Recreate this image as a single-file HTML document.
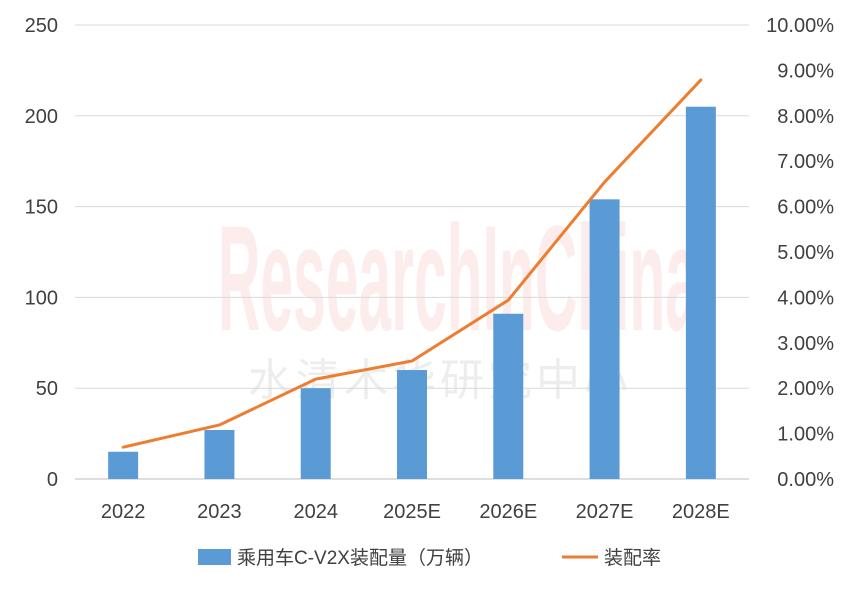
<!DOCTYPE html>
<html><head><meta charset="utf-8"><style>
body{margin:0;background:#fff;}
svg{display:block;font-family:"Liberation Sans","Noto Sans CJK SC",sans-serif;}
</style></head><body>
<svg id="chart" width="862" height="591" viewBox="0 0 862 591">
<g id="wm">
<text x="458" y="330" text-anchor="middle" font-size="150" font-weight="bold" fill="#e03030" fill-opacity="0.09" textLength="480" lengthAdjust="spacingAndGlyphs">ResearchInChina</text>
<text x="440" y="395" text-anchor="middle" font-size="44" fill="#999" fill-opacity="0.18" letter-spacing="4">水清木华研究中心</text>
</g>
<g id="grid"></g><g id="bars"></g><g id="line"></g><g id="labels"></g>
<g>
<rect x="198" y="549" width="33" height="16" fill="#5b9bd5"/>
<text x="237" y="564" font-size="19" fill="#404040">乘用车C-V2X装配量（万辆）</text>
<line x1="562" y1="557" x2="598" y2="557" stroke="#ed7d31" stroke-width="3"/>
<text x="604" y="564" font-size="19" fill="#404040">装配率</text>
</g>
</svg>
<script>
const categories=["2022","2023","2024","2025E","2026E","2027E","2028E"];
const volumes=[15,27,50,60,91,154,205];
const rates=[0.70,1.19,2.20,2.60,3.94,6.54,8.79];
const leftTicks=[0,50,100,150,200,250];
const rightTicks=["0.00%","1.00%","2.00%","3.00%","4.00%","5.00%","6.00%","7.00%","8.00%","9.00%","10.00%"];
const NS="http://www.w3.org/2000/svg";
const x0=75,x1=749,yB=479,yT=25;
const band=(x1-x0)/categories.length;
const xc=i=>x0+band*(i+0.5);
const yL=v=>yB-(v/250)*(yB-yT);
const yR=v=>yB-(v/10)*(yB-yT);
function mk(tag,attrs,parent,txt){const e=document.createElementNS(NS,tag);for(const k in attrs)e.setAttribute(k,attrs[k]);if(txt!==undefined)e.textContent=txt;document.getElementById(parent).appendChild(e);return e;}
leftTicks.forEach(t=>{
 const g=mk("line",{x1:x0,x2:x1,y1:yL(t),y2:yL(t),stroke:t===0?"#bfbfbf":"#d9d9d9","stroke-width":1},"grid");
 
 
 const l=mk("text",{x:58,y:yL(t)+7,"text-anchor":"end","font-size":20,fill:"#404040"},"labels",String(t));
 
 
});
rightTicks.forEach((t,i)=>{
 const l=mk("text",{x:834,y:yR(i)+7,"text-anchor":"end","font-size":20,fill:"#404040"},"labels",t);
 
 
});
categories.forEach((c,i)=>{
 const b=mk("rect",{x:xc(i)-15,y:yL(volumes[i]),width:30,height:yB-yL(volumes[i]),fill:"#5b9bd5"},"bars");
 
 
 const l=mk("text",{x:xc(i),y:518,"text-anchor":"middle","font-size":20,fill:"#404040"},"labels",c);
 
 
});
const pts=rates.map((r,i)=>xc(i)+","+yR(r)).join(" ");
const pl=mk("polyline",{points:pts,fill:"none",stroke:"#ed7d31","stroke-width":3,"stroke-linejoin":"round","stroke-linecap":"round"},"line");


</script>
</body></html>
